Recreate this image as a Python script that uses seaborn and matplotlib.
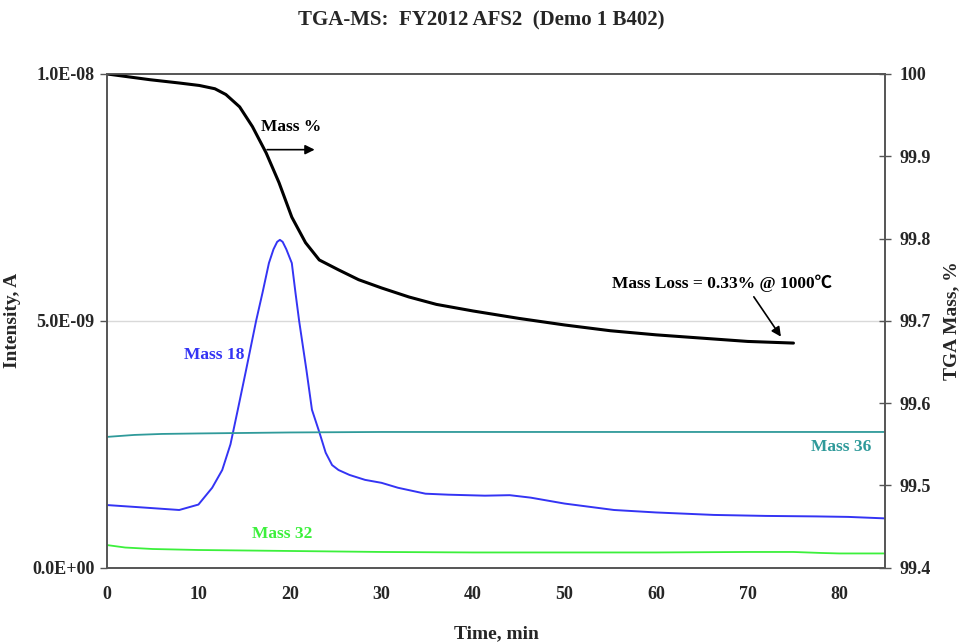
import numpy as np
import pandas as pd
import matplotlib
matplotlib.use("Agg")
import matplotlib.pyplot as plt
import seaborn as sns

# ---- data ----
mass18_t = [0, 4, 7.9, 10, 11.5, 12.6, 13.5, 14.3, 15.2, 16.3, 17.0, 17.7, 18.2, 18.6, 18.9, 19.2, 19.6, 20.2, 20.6, 21.0, 21.8, 22.4, 23.2, 23.9, 24.6, 25.3, 26.5, 28.2, 30, 31.8, 34.8, 37.3, 41.3, 44, 46.3, 50, 55.4, 60, 66.3, 72, 77.5, 81, 85]
mass18_v = [1.27e-9, 1.22e-9, 1.17e-9, 1.28e-9, 1.62e-9, 1.98e-9, 2.5e-9, 3.2e-9, 4.0e-9, 5.0e-9, 5.57e-9, 6.17e-9, 6.45e-9, 6.6e-9, 6.64e-9, 6.6e-9, 6.45e-9, 6.17e-9, 5.57e-9, 5.0e-9, 4.0e-9, 3.2e-9, 2.75e-9, 2.33e-9, 2.08e-9, 1.98e-9, 1.88e-9, 1.78e-9, 1.72e-9, 1.62e-9, 1.50e-9, 1.48e-9, 1.46e-9, 1.47e-9, 1.42e-9, 1.30e-9, 1.17e-9, 1.12e-9, 1.07e-9, 1.05e-9, 1.04e-9, 1.03e-9, 1.0e-9]

mass36_t = [0, 3, 6, 10, 15, 20, 30, 40, 50, 60, 70, 80, 85]
mass36_v = [2.65e-9, 2.69e-9, 2.71e-9, 2.72e-9, 2.73e-9, 2.74e-9, 2.75e-9, 2.75e-9, 2.75e-9, 2.75e-9, 2.75e-9, 2.75e-9, 2.75e-9]

mass32_t = [0, 2, 5, 10, 20, 25, 30, 40, 50, 60, 70, 75, 78, 80, 85]
mass32_v = [0.46e-9, 0.41e-9, 0.38e-9, 0.36e-9, 0.34e-9, 0.33e-9, 0.32e-9, 0.31e-9, 0.31e-9, 0.31e-9, 0.32e-9, 0.32e-9, 0.30e-9, 0.29e-9, 0.29e-9]

tga_t = [0, 4.7, 7.9, 10.1, 11.8, 13.0, 14.5, 15.9, 17.4, 18.8, 20.2, 21.7, 23.2, 25.3, 27.5, 30, 33, 36, 40, 45, 50, 55, 60, 65, 70, 75]
tga_v = [100.0, 99.993, 99.989, 99.986, 99.982, 99.975, 99.960, 99.936, 99.904, 99.868, 99.826, 99.795, 99.774, 99.762, 99.750, 99.740, 99.729, 99.720, 99.712, 99.703, 99.695, 99.688, 99.683, 99.679, 99.675, 99.673]

x_ticks = [0, 10, 20, 30, 40, 50, 60, 70, 80]
left_ticks = [0.0, 5e-9, 1e-8]
left_ticklabels = ["0.0E+00", "5.0E-09", "1.0E-08"]
right_ticks = [99.4, 99.5, 99.6, 99.7, 99.8, 99.9, 100]
right_ticklabels = ["99.4", "99.5", "99.6", "99.7", "99.8", "99.9", "100"]

sns.set_style("white")
plt.rcParams['font.family'] = ['Liberation Serif', 'DejaVu Serif']
plt.rcParams['font.weight'] = 'bold'

fig = plt.figure(figsize=(9.63, 6.43), dpi=100)
ax = fig.add_axes([0.111, 0.117, 0.808, 0.768])

c18, c36, c32 = "#3434f4", "#2f9a9a", "#3cf03c"
sns.lineplot(x=mass18_t, y=mass18_v, ax=ax, color=c18, lw=1.4)
sns.lineplot(x=mass36_t, y=mass36_v, ax=ax, color=c36, lw=1.3)
sns.lineplot(x=mass32_t, y=mass32_v, ax=ax, color=c32, lw=1.3)
ax.axhline(5e-9, color="#d9d9d9", lw=1, zorder=0)

ax.set_xlim(0, 85)
ax.set_ylim(0, 1e-8)
ax.set_xticks(x_ticks)
ax.set_xticklabels([str(v) for v in x_ticks], fontsize=13, fontweight='bold')
ax.set_yticks(left_ticks)
ax.set_yticklabels(left_ticklabels, fontsize=13, fontweight='bold')
ax.tick_params(axis='both', direction='out', length=5, width=1, color='#555555', pad=4)
ax.tick_params(axis='x', pad=8)
for s in ax.spines.values():
    s.set_color('#555555')
    s.set_linewidth(1.2)
ax.set_xlabel("Time, min", fontsize=14, fontweight='bold', labelpad=16)
ax.set_ylabel("Intensity, A", fontsize=14, fontweight='bold', labelpad=8)

ax2 = ax.twinx()
sns.lineplot(x=tga_t, y=tga_v, ax=ax2, color="black", lw=2.2)
ax2.set_ylim(99.4, 100)
ax2.set_yticks(right_ticks)
ax2.set_yticklabels(right_ticklabels, fontsize=13, fontweight='bold')
ax2.tick_params(axis='y', direction='inout', length=9, width=1, color='#555555', pad=6)
for s in ax2.spines.values():
    s.set_color('#555555')
    s.set_linewidth(1.2)
ax2.set_ylabel("TGA Mass, %", fontsize=14, fontweight='bold', labelpad=9)

fig.suptitle("TGA-MS:  FY2012 AFS2  (Demo 1 B402)", fontsize=15, fontweight='bold', y=0.983)

ax.text(11.7, 4.31e-9, "Mass 18", color=c18, fontsize=12.5, fontweight='bold', ha='center', va='center')
ax.text(83.5, 2.45e-9, "Mass 36", color=c36, fontsize=12.5, fontweight='bold', ha='right', va='center')
ax.text(19.1, 0.69e-9, "Mass 32", color=c32, fontsize=12.5, fontweight='bold', ha='center', va='center')
ax2.text(16.8, 99.935, "Mass %", color='black', fontsize=12.5, fontweight='bold', ha='left', va='center')
ax2.annotate("", xy=(23.0, 99.908), xytext=(17.2, 99.908),
             arrowprops=dict(arrowstyle='-|>', color='black', lw=1.2, mutation_scale=14))
ax2.text(67.2, 99.746, "Mass Loss = 0.33% @ 1000\u2103", color='black', fontsize=12.5, fontweight='bold',
         ha='center', va='center', family=['Liberation Serif', 'Noto Sans CJK SC', 'DejaVu Sans'])
ax2.annotate("", xy=(73.8, 99.678), xytext=(70.5, 99.732),
             arrowprops=dict(arrowstyle='-|>', color='black', lw=1.2, mutation_scale=14))

fig.savefig("out.png", dpi=100)
